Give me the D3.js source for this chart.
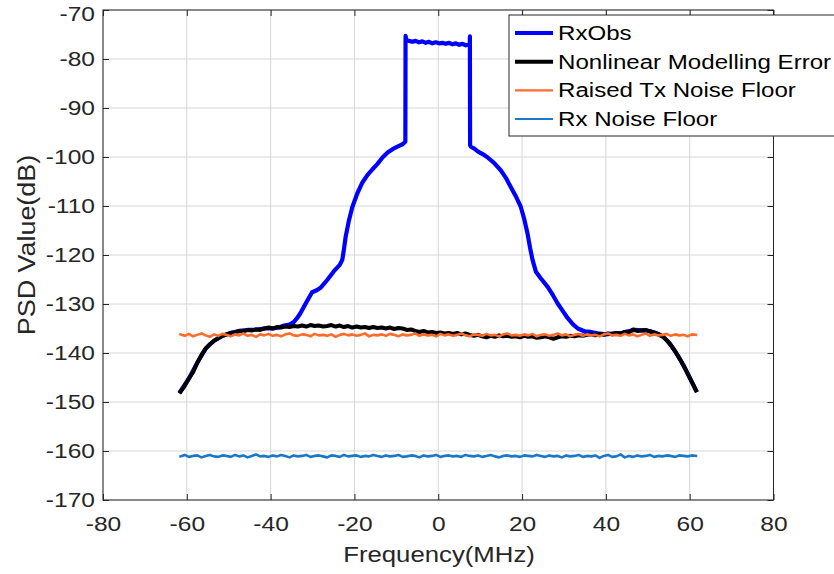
<!DOCTYPE html>
<html><head><meta charset="utf-8">
<script src="https://cdn.jsdelivr.net/npm/d3@7/dist/d3.min.js"></script>
<style>
body{margin:0;background:#fff}
text{font-family:"Liberation Sans",Arial,Helvetica,sans-serif}
</style>
</head><body>
<svg id="chart" width="834" height="574"></svg>
<script>
// ---------- data ----------
const xTicks = [-80, -60, -40, -20, 0, 20, 40, 60, 80];
const yTicks = [-170, -160, -150, -140, -130, -120, -110, -100, -90, -80, -70];
const seriesNames = ["RxObs", "Nonlinear Modelling Error", "Raised Tx Noise Floor", "Rx Noise Floor"];
const seriesColors = ["#0000ff", "#000000", "#ff6b2b", "#1a78c8"];
const seriesWidths = [4.2, 4, 2.6, 2.6];

// common frequency grid (MHz) for the noise-type traces
const gridFreq = d3.range(-61.5, 61.6, 1);

const nlError = [
-147.9,-146.7,-145.2,-143.9,-142.0,-140.4,-139.1,-138.2,-137.5,-137.0,
-136.5,-136.2,-135.9,-135.8,-135.5,-135.6,-135.3,-135.4,-135.2,-135.3,
-135.0,-134.8,-135.0,-134.7,-134.8,-134.6,-134.7,-134.5,-134.6,-134.4,
-134.6,-134.3,-134.5,-134.4,-134.6,-134.5,-134.3,-134.6,-134.4,-134.7,
-134.5,-134.8,-134.6,-134.8,-134.7,-134.9,-134.7,-134.9,-134.8,-135.0,
-134.8,-135.1,-134.9,-135.0,-135.3,-135.2,-135.5,-135.7,-135.5,-135.8,
-135.7,-135.9,-135.8,-136.0,-135.9,-136.1,-135.9,-136.2,-136.0,-136.3,
-136.5,-136.3,-136.6,-136.8,-136.5,-136.7,-136.4,-136.6,-136.5,-136.7,
-136.6,-136.8,-136.5,-136.7,-136.6,-136.9,-136.8,-136.6,-136.8,-137.1,
-136.8,-136.6,-136.7,-136.5,-136.6,-136.4,-136.5,-136.3,-136.2,-136.4,
-136.1,-136.3,-136.0,-136.2,-135.9,-136.0,-135.7,-135.8,-135.2,-135.5,
-135.4,-135.3,-135.6,-135.8,-136.2,-136.6,-137.4,-138.4,-139.6,-141.0,
-142.5,-144.2,-145.9,-147.6];

const txFloor = [
-136.2,-136.5,-136.1,-136.6,-136.3,-136.0,-136.4,-136.7,-136.2,-136.5,
-136.1,-136.3,-136.6,-136.2,-136.4,-136.0,-136.5,-136.3,-136.7,-136.2,
-136.4,-136.1,-136.5,-136.3,-136.6,-136.2,-136.0,-136.4,-136.5,-136.2,
-136.3,-136.6,-136.1,-136.4,-136.3,-136.5,-136.2,-136.7,-136.3,-136.1,
-136.4,-136.2,-136.5,-136.3,-136.0,-136.6,-136.3,-136.4,-136.2,-136.5,
-136.1,-136.3,-136.6,-136.2,-136.4,-136.3,-136.0,-136.5,-136.2,-136.4,
-136.3,-136.6,-136.1,-136.4,-136.2,-136.5,-136.3,-136.0,-136.4,-136.6,
-136.2,-136.3,-136.5,-136.1,-136.4,-136.3,-136.6,-136.2,-136.0,-136.4,
-136.3,-136.5,-136.2,-136.4,-136.1,-136.6,-136.3,-136.2,-136.5,-136.3,
-136.0,-136.4,-136.2,-136.6,-136.3,-136.1,-136.5,-136.2,-136.4,-136.3,
-136.6,-136.2,-136.0,-136.4,-136.3,-136.5,-136.1,-136.4,-136.2,-136.6,
-136.3,-136.0,-136.5,-136.2,-136.4,-136.3,-136.1,-136.5,-136.2,-136.4,
-136.3,-136.6,-136.2,-136.3];

const rxFloor = [
-161.1,-160.8,-161.2,-161.0,-160.9,-161.3,-161.0,-160.8,-161.1,-161.2,
-160.9,-161.0,-161.2,-160.8,-161.1,-160.9,-161.3,-161.0,-160.7,-161.1,
-161.0,-161.2,-160.9,-161.1,-160.8,-161.0,-161.3,-160.9,-161.1,-161.0,
-160.8,-161.2,-161.0,-160.9,-161.1,-161.3,-160.9,-161.0,-161.2,-160.8,
-161.1,-161.0,-160.9,-161.2,-161.0,-161.1,-160.8,-161.0,-161.2,-160.9,
-161.1,-161.0,-160.8,-161.2,-161.1,-160.9,-161.0,-161.3,-160.9,-161.1,
-161.0,-160.8,-161.2,-161.0,-160.9,-161.1,-161.0,-161.2,-160.8,-161.0,
-161.1,-160.9,-161.2,-161.0,-160.8,-161.1,-161.3,-161.0,-160.9,-161.1,
-161.0,-161.2,-160.9,-161.0,-161.1,-160.8,-161.0,-161.2,-160.9,-161.1,
-161.0,-161.3,-160.9,-161.1,-161.0,-160.8,-161.2,-161.0,-161.1,-160.9,
-161.4,-161.0,-160.8,-161.2,-161.1,-160.7,-161.3,-161.0,-161.2,-160.9,
-161.1,-161.0,-160.8,-161.2,-161.0,-161.1,-160.9,-161.0,-161.2,-160.9,
-161.0,-161.1,-160.9,-161.0];

const rxObsFreq = [
-61.5,-59.5,-57.5,-55.5,-53.5,-51.5,-49.5,-47.5,-45.5,-43.5,
-41.5,-39.5,-38.0,-36.8,-35.5,-34.5,-33.7,-32.9,-31.5,-30.1,
-29.0,-28.1,-26.5,-24.9,-23.5,-22.9,-22.5,-22.1,-21.3,-20.5,
-19.3,-18.1,-16.9,-15.7,-14.5,-13.3,-12.1,-10.9,-9.75,-8.5,
-7.85,-7.8,-7.6,-7.0,-6.2,-5.4,-4.6,-3.8,-3.0,-2.2,
-1.4,-0.6,0.2,1.0,1.8,2.6,3.4,4.2,5.0,5.8,
6.6,7.2,7.5,7.55,7.6,7.8,8.6,9.5,10.6,11.8,
13.3,14.9,16.1,17.3,18.5,19.7,20.5,21.3,21.9,22.5,
23.3,24.5,26.1,27.3,28.5,29.7,30.9,32.1,33.3,35.0,
36.4,38.0,40.0,42.0,43.6,45.0,46.8,48.8,50.8,52.5,
54.0,55.2,56.4,57.5,58.7,60.0,61.5];
const rxObsVal = [
-147.8,-145.2,-142.0,-139.1,-137.5,-136.5,-135.9,-135.5,-135.3,-135.2,
-135.0,-135.0,-134.8,-134.4,-134.2,-133.7,-132.9,-131.9,-129.7,-127.6,
-127.2,-126.7,-125.1,-123.3,-122.0,-121.0,-118.8,-116.3,-112.9,-110.2,
-107.4,-105.2,-103.7,-102.5,-101.4,-100.1,-99.1,-98.4,-97.9,-97.4,
-96.9,-75.3,-76.1,-76.3,-76.5,-76.3,-76.6,-76.4,-76.7,-76.5,
-76.8,-76.6,-76.8,-76.7,-76.9,-76.7,-77.0,-76.8,-77.1,-76.9,
-77.2,-77.1,-77.3,-75.4,-97.6,-97.9,-98.3,-98.9,-99.4,-100.1,
-101.2,-102.7,-104.2,-106.1,-108.0,-110.2,-112.6,-115.6,-118.5,-121.0,
-123.4,-124.8,-126.5,-128.1,-129.9,-131.4,-132.9,-134.1,-135.0,-135.6,
-135.7,-136.0,-136.2,-136.0,-136.0,-135.6,-135.3,-135.4,-135.6,-136.1,
-136.9,-138.0,-139.5,-141.0,-142.8,-145.0,-147.6];

// ---------- layout ----------
const svg = d3.select("#chart");
const L = 103, R = 773.5, T = 10, B = 500;
const SX = 1.17; // horizontal text stretch
const x = d3.scaleLinear().domain([-80, 80]).range([L, R]);
const y = d3.scaleLinear().domain([-170, -70]).range([B, T]);
const axisColor = "#262626";

// grid
const grid = svg.append("g");
grid.selectAll("line.gx").data(xTicks).join("line")
  .attr("x1", d => x(d)).attr("x2", d => x(d)).attr("y1", T).attr("y2", B)
  .attr("stroke", "#d6d6d6").attr("stroke-width", 1);
grid.selectAll("line.gy").data(yTicks).join("line")
  .attr("x1", L).attr("x2", R).attr("y1", d => y(d)).attr("y2", d => y(d))
  .attr("stroke", "#d6d6d6").attr("stroke-width", 1);

// data lines
svg.append("clipPath").attr("id", "clip").append("rect")
  .attr("x", L).attr("y", T).attr("width", R - L).attr("height", B - T);
const plot = svg.append("g").attr("clip-path", "url(#clip)");
const line = d3.line().x(d => x(d[0])).y(d => y(d[1]));
const seriesData = [
  d3.zip(rxObsFreq, rxObsVal),
  d3.zip(gridFreq, nlError),
  d3.zip(gridFreq, txFloor),
  d3.zip(gridFreq, rxFloor)
];
seriesData.forEach((s, i) => {
  plot.append("path").datum(s).attr("d", line)
    .attr("fill", "none").attr("stroke", seriesColors[i])
    .attr("stroke-width", seriesWidths[i])
    .attr("stroke-linejoin", "round").attr("stroke-linecap", "square");
});

// axes
const fmt = d => String(d).replace("\u2212", "-");
const gx = svg.append("g").attr("transform", `translate(0,${B})`)
  .call(d3.axisBottom(x).tickValues(xTicks).tickSizeInner(-6).tickSizeOuter(0).tickPadding(16).tickFormat(fmt));
const gy = svg.append("g").attr("transform", `translate(${L},0)`)
  .call(d3.axisLeft(y).tickValues(yTicks).tickSizeInner(-6).tickSizeOuter(0).tickPadding(8).tickFormat(fmt));
const gt = svg.append("g").attr("transform", `translate(0,${T})`)
  .call(d3.axisTop(x).tickValues(xTicks).tickSizeInner(-6).tickSizeOuter(0).tickFormat(""));
const gr = svg.append("g").attr("transform", `translate(${R},0)`)
  .call(d3.axisRight(y).tickValues(yTicks).tickSizeInner(-6).tickSizeOuter(0).tickFormat(""));
[gx, gy, gt, gr].forEach(g => {
  g.select(".domain").remove();
  g.selectAll(".tick line").attr("stroke", axisColor);
});
gx.selectAll(".tick text").attr("font-size", 21).attr("fill", axisColor)
  .attr("font-family", "Liberation Sans, Arial, sans-serif")
  .attr("x", 0).attr("transform", `scale(${SX},1)`);
gy.selectAll(".tick text").attr("font-size", 21).attr("fill", axisColor)
  .attr("font-family", "Liberation Sans, Arial, sans-serif")
  .attr("x", -8 / SX).attr("transform", `scale(${SX},1)`)
  .attr("y", d => d === -70 ? 4 : 0);

svg.append("rect").attr("x", L).attr("y", T).attr("width", R - L).attr("height", B - T)
  .attr("fill", "none").attr("stroke", axisColor).attr("stroke-width", 1);

// axis labels
svg.append("text").attr("transform", `translate(439,562) scale(${SX},1)`)
  .attr("text-anchor", "middle").attr("font-size", 22).attr("fill", axisColor)
  .text("Frequency(MHz)");
svg.append("text").attr("transform", `translate(35,245) rotate(-90) scale(${SX},1)`)
  .attr("text-anchor", "middle").attr("font-size", 23).attr("fill", axisColor)
  .text("PSD Value(dB)");

// legend
const lg = svg.append("g");
lg.append("rect").attr("x", 509).attr("y", 15).attr("width", 340).attr("height", 121)
  .attr("fill", "#fff").attr("stroke", axisColor).attr("stroke-width", 1);
const rowY = [33, 61.7, 90.4, 119];
seriesNames.forEach((n, i) => {
  lg.append("line").attr("x1", 515).attr("x2", 553).attr("y1", rowY[i]).attr("y2", rowY[i])
    .attr("stroke", seriesColors[i]).attr("stroke-width", i < 2 ? 4 : 2.2);
  lg.append("text").attr("transform", `translate(558,${rowY[i] + 7}) scale(${SX},1)`)
    .attr("font-size", 20.6).attr("fill", "#000").text(n);
});
</script>
</body></html>
